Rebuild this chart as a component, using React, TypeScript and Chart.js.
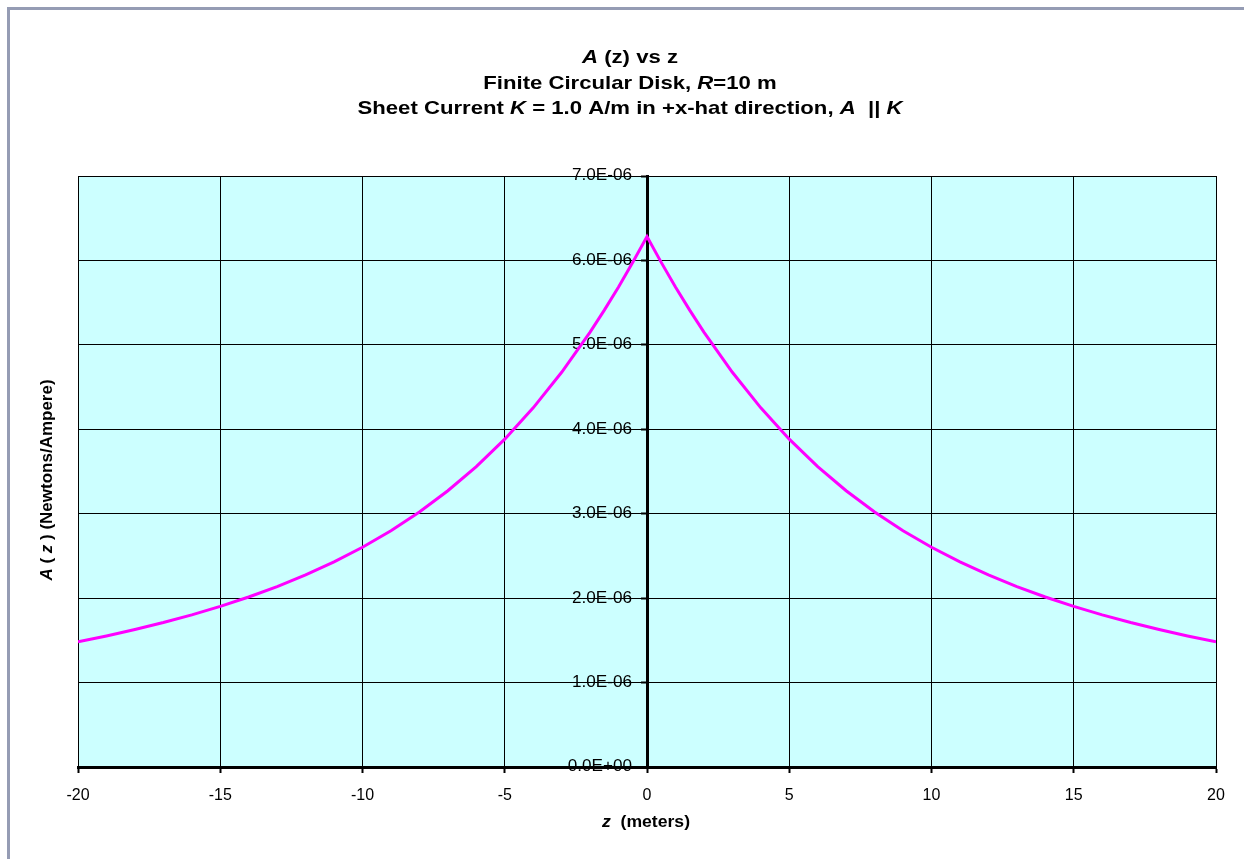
import React, { useEffect, useRef } from 'react';
import { Chart, registerables } from 'chart.js';

Chart.register(...registerables);

// z positions (meters)
const zMeters = [
  -20, -19, -18, -17, -16, -15, -14, -13, -12, -11, -10, -9, -8, -7, -6, -5, -4, -3, -2, -1.5, -1, -0.5,
  0,
  0.5, 1, 1.5, 2, 3, 4, 5, 6, 7, 8, 9, 10, 11, 12, 13, 14, 15, 16, 17, 18, 19, 20,
];

// A(z) values (Newtons/Ampere)
const aValues = [
  1.483e-6, 1.552e-6, 1.628e-6, 1.711e-6, 1.802e-6, 1.902e-6, 2.014e-6, 2.137e-6, 2.275e-6, 2.429e-6,
  2.603e-6, 2.798e-6, 3.02e-6, 3.272e-6, 3.557e-6, 3.883e-6, 4.254e-6, 4.675e-6, 5.151e-6, 5.411e-6,
  5.686e-6, 5.977e-6,
  6.283e-6,
  5.977e-6, 5.686e-6, 5.411e-6, 5.151e-6, 4.675e-6, 4.254e-6, 3.883e-6, 3.557e-6, 3.272e-6, 3.02e-6,
  2.798e-6, 2.603e-6, 2.429e-6, 2.275e-6, 2.137e-6, 2.014e-6, 1.902e-6, 1.802e-6, 1.711e-6, 1.628e-6,
  1.552e-6, 1.483e-6,
];

const xMin = -20;
const xMax = 20;
const xStep = 5;
const yMin = 0;
const yMax = 7e-6;
const yStep = 1e-6;

type Seg = { t: string; i?: boolean };

const titleLines: Seg[][] = [
  [{ t: 'A', i: true }, { t: ' (z) vs z' }],
  [{ t: 'Finite Circular Disk, ' }, { t: 'R', i: true }, { t: '=10 m' }],
  [
    { t: 'Sheet Current ' },
    { t: 'K', i: true },
    { t: ' = 1.0 A/m in +x-hat direction, ' },
    { t: 'A', i: true },
    { t: '  || ' },
    { t: 'K', i: true },
  ],
];

const yTitle: Seg[] = [{ t: 'A', i: true }, { t: ' ( ' }, { t: 'z', i: true }, { t: ' ) (Newtons/Ampere)' }];
const xTitle: Seg[] = [{ t: 'z', i: true }, { t: '  (meters)' }];

const FAMILY = '"Liberation Sans", Arial, Helvetica, sans-serif';

function fmtSci(v: number): string {
  if (Math.abs(v) < 1e-15) return '0.0E+00';
  const e = Math.floor(Math.log10(Math.abs(v)) + 1e-9);
  const m = v / Math.pow(10, e);
  return m.toFixed(1) + 'E' + (e < 0 ? '-' : '+') + String(Math.abs(e)).padStart(2, '0');
}

function drawRich(
  ctx: CanvasRenderingContext2D,
  segs: Seg[],
  cx: number,
  y: number,
  size: number,
  sx: number,
) {
  const fontFor = (s: Seg) => `${s.i ? 'italic ' : ''}bold ${size}px ${FAMILY}`;
  let total = 0;
  const widths = segs.map((s) => {
    ctx.font = fontFor(s);
    const w = ctx.measureText(s.t).width;
    total += w;
    return w;
  });
  ctx.save();
  ctx.translate(cx, y);
  ctx.scale(sx, 1);
  let x = -total / 2;
  ctx.textAlign = 'left';
  segs.forEach((s, k) => {
    ctx.font = fontFor(s);
    ctx.fillText(s.t, x, 0);
    x += widths[k];
  });
  ctx.restore();
}

const bgPlugin = {
  id: 'plotBg',
  beforeDraw(chart: any) {
    const { ctx, chartArea } = chart;
    if (!chartArea) return;
    ctx.save();
    ctx.fillStyle = '#CCFFFF';
    ctx.fillRect(chartArea.left, chartArea.top, chartArea.right - chartArea.left, chartArea.bottom - chartArea.top);
    // y-axis tick labels, taken from the y scale's own ticks, to the left of the centred axis
    const ys = chart.scales.y;
    const xs = chart.scales.x;
    const axisX = xs.getPixelForValue(0);
    ctx.fillStyle = '#000';
    ctx.font = `16px ${FAMILY}`;
    ctx.textAlign = 'right';
    ctx.textBaseline = 'middle';
    ys.ticks.forEach((t: any) => {
      const py = ys.getPixelForValue(t.value);
      ctx.save();
      ctx.translate(axisX - 15, py);
      ctx.scale(1.07, 1);
      ctx.fillText(String(t.label), 0, 0);
      ctx.restore();
    });
    ctx.restore();
  },
};

const textPlugin = {
  id: 'richTitles',
  afterDraw(chart: any) {
    const { ctx } = chart;
    ctx.save();
    ctx.fillStyle = '#000';
    ctx.textBaseline = 'alphabetic';
    const baselines = [63, 89, 114];
    titleLines.forEach((line, k) => drawRich(ctx, line, 630, baselines[k], 19, 1.165));
    // x axis title
    drawRich(ctx, xTitle, 646, 827, 16, 1.1);
    // y axis title (rotated)
    ctx.translate(47, 480);
    ctx.rotate(-Math.PI / 2);
    ctx.textBaseline = 'middle';
    drawRich(ctx, yTitle, 0, 0, 17, 1);
    ctx.restore();
  },
};

export default function App() {
  const canvasRef = useRef<HTMLCanvasElement | null>(null);

  useEffect(() => {
    if (!canvasRef.current) return;
    const points = zMeters.map((z, k) => ({ x: z, y: aValues[k] }));
    const chart = new Chart(canvasRef.current, {
      type: 'scatter',
      data: {
        datasets: [
          {
            data: points,
            showLine: true,
            borderColor: '#FF00FF',
            backgroundColor: '#FF00FF',
            borderWidth: 3,
            pointRadius: 0,
            pointHoverRadius: 0,
            tension: 0,
            fill: false,
          },
        ],
      },
      options: {
        animation: false,
        responsive: true,
        maintainAspectRatio: false,
        layout: { padding: { left: 78, right: 28, top: 176, bottom: 0 } },
        plugins: {
          legend: { display: false },
          tooltip: { enabled: false },
          title: { display: false },
        },
        scales: {
          x: {
            type: 'linear',
            min: xMin,
            max: xMax,
            afterFit: (s: any) => {
              s.height = 92;
            },
            ticks: {
              stepSize: xStep,
              color: '#000',
              font: { family: FAMILY, size: 16 },
              padding: 13,
              maxRotation: 0,
            },
            grid: { color: '#000', lineWidth: 1, tickLength: 6, tickColor: '#000', tickWidth: 2 },
            border: { color: '#000', width: 3 },
          },
          y: {
            type: 'linear',
            position: { x: 0 } as any,
            min: yMin,
            max: yMax,
            ticks: {
              display: false,
              stepSize: yStep,
              callback: (v: any) => fmtSci(Number(v)),
            },
            grid: { color: '#000', lineWidth: 1, tickLength: 5, tickColor: '#000', tickWidth: 2 },
            border: { color: '#000', width: 3 },
          },
        },
      },
      plugins: [bgPlugin, textPlugin],
    });
    return () => chart.destroy();
  }, []);

  return (
    <div style={{ position: 'fixed', left: 0, top: 0, width: 1244, height: 859, background: '#fff' }}>
      <div
        style={{
          position: 'absolute',
          left: 7,
          top: 7,
          right: -10,
          bottom: -10,
          borderTop: '3px solid #959CB4',
          borderLeft: '3px solid #959CB4',
        }}
      />
      <div style={{ position: 'absolute', left: 0, top: 0, width: 1244, height: 859 }}>
        <canvas ref={canvasRef} />
      </div>
    </div>
  );
}
